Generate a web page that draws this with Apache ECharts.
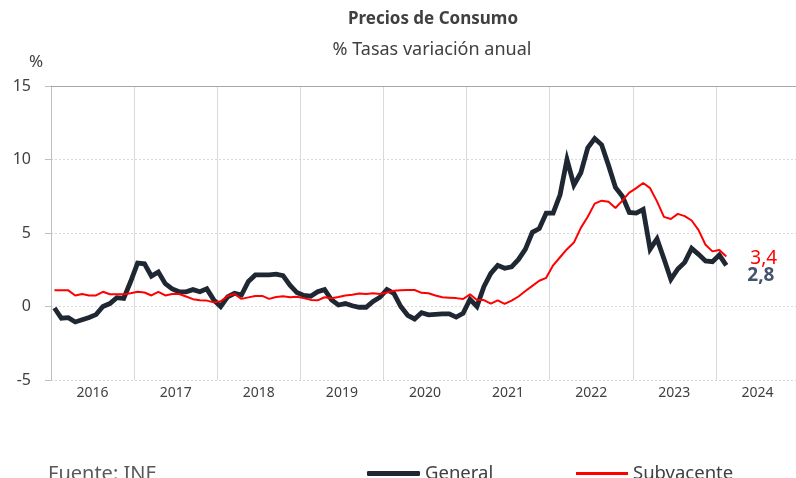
<!DOCTYPE html>
<html lang="es">
<head>
    <meta charset="UTF-8">
    <title>Precios de Consumo</title>
    <script src="https://cdn.jsdelivr.net/npm/echarts@6/dist/echarts.min.js"></script>
    <style>
        html, body { margin: 0; padding: 0; background: #fff; }
        #chart { width: 796px; height: 478px; }
    </style>
</head>
<body>
    <div id="chart"></div>

    <script>
        // años del eje X
        var years = ['2016', '2017', '2018', '2019', '2020', '2021', '2022', '2023', '2024'];

        // IPC general, tasa anual (ene 2016 - feb 2024)
        var general = [
            -0.1, -0.8, -0.76, -1.05, -0.9, -0.75, -0.55, 0.0, 0.2, 0.6, 0.55, 1.7,
            2.95, 2.9, 2.07, 2.35, 1.55, 1.2, 1.0, 1.0, 1.15, 1.0, 1.2, 0.45,
            0.0, 0.65, 0.9, 0.78, 1.7, 2.15, 2.15, 2.15, 2.2, 2.1, 1.45, 0.95,
            0.75, 0.7, 1.0, 1.15, 0.45, 0.1, 0.2, 0.05, -0.05, -0.05, 0.35, 0.63,
            1.15, 0.9, 0.0, -0.6, -0.85, -0.42, -0.57, -0.53, -0.5, -0.5, -0.72, -0.46,
            0.49, 0.0, 1.35, 2.25, 2.8, 2.6, 2.7, 3.2, 3.9, 5.05, 5.3, 6.35,
            6.35, 7.6, 10.0, 8.27, 9.1, 10.8, 11.43, 11.0, 9.6, 8.1, 7.5, 6.4,
            6.35, 6.6, 3.9, 4.6, 3.25, 1.85, 2.55, 3.0, 3.95, 3.55, 3.1, 3.05,
            3.5, 2.8
        ];

        // IPC subyacente, tasa anual
        var subyacente = [
            1.1, 1.1, 1.1, 0.75, 0.85, 0.75, 0.75, 1.0, 0.83, 0.83, 0.83, 0.9,
            1.0, 0.95, 0.75, 1.0, 0.75, 0.85, 0.85, 0.68, 0.5, 0.43, 0.4, 0.28,
            0.35, 0.72, 0.85, 0.52, 0.62, 0.72, 0.72, 0.52, 0.65, 0.7, 0.63, 0.67,
            0.57, 0.45, 0.42, 0.63, 0.56, 0.65, 0.75, 0.8, 0.88, 0.85, 0.9, 0.85,
            0.95, 1.07, 1.1, 1.12, 1.12, 0.93, 0.9, 0.75, 0.63, 0.6, 0.57, 0.51,
            0.83, 0.44, 0.44, 0.2, 0.42, 0.18, 0.4, 0.68, 1.05, 1.4, 1.75, 1.95,
            2.8, 3.35, 3.9, 4.35, 5.35, 6.1, 7.0, 7.2, 7.12, 6.7, 7.2, 7.75,
            8.05, 8.4, 8.05, 7.15, 6.1, 5.95, 6.3, 6.15, 5.85, 5.2, 4.2, 3.75,
            3.85, 3.4
        ];

        var yTicks = { min: -5, max: 15, interval: 5 };

        // meses (categorías del eje mensual)
        var months = [];
        years.forEach(function (y) {
            for (var m = 1; m <= 12; m++) months.push(y + '-' + (m < 10 ? '0' + m : m));
        });

        var font = 'Noto Sans';
        var txt = '#404040';

        var mChart = echarts.init(document.getElementById('chart'), null, { renderer: 'canvas' });
        var option = {
            animation: false,
            textStyle: { fontFamily: font },
            title: [
                { text: 'Precios de Consumo', left: 433, top: 11, textAlign: 'center', padding: 0,
                  textStyle: { fontFamily: font, fontSize: 17, fontWeight: 'bold', color: txt } },
                { text: '% Tasas variación anual', left: 432, top: 41, textAlign: 'center', padding: 0,
                  textStyle: { fontFamily: font, fontSize: 18, fontWeight: 'normal', color: txt } },
                { text: '%', left: 29, top: 54, padding: 0,
                  textStyle: { fontFamily: font, fontSize: 17, fontWeight: 'normal', color: txt } },
                { text: 'Fuente: INE', left: 48, top: 464, padding: 0,
                  textStyle: { fontFamily: font, fontSize: 20, fontWeight: 'normal', color: '#595959' } }
            ],
            legend: [
                { data: ['General'], left: 367, top: 464, padding: 0, icon: 'roundRect', itemWidth: 53, itemHeight: 5,
                  textStyle: { fontFamily: font, fontSize: 18.5, color: txt } },
                { data: ['Subvacente'], left: 576, top: 464, padding: 0, icon: 'rect', itemWidth: 52, itemHeight: 3,
                  textStyle: { fontFamily: font, fontSize: 18.5, color: txt } }
            ],
            grid: { left: 51, right: -3, top: 86, bottom: 98, outerBoundsMode: 'none', containLabel: false },
            xAxis: [
                {
                    type: 'category',
                    data: years,
                    boundaryGap: true,
                    axisLine: { show: false },
                    axisTick: { show: false },
                    axisLabel: { color: txt, fontSize: 14, margin: 6 },
                    splitLine: { show: true, lineStyle: { color: '#d9d9d9', width: 1 } }
                },
                {
                    type: 'category',
                    data: months,
                    boundaryGap: true,
                    axisLine: { show: true, onZero: true, lineStyle: { color: '#a6a6a6', width: 1 } },
                    axisTick: { show: false },
                    axisLabel: { show: false },
                    splitLine: { show: false }
                }
            ],
            yAxis: {
                type: 'value',
                min: yTicks.min,
                max: yTicks.max,
                interval: yTicks.interval,
                axisLine: { show: true, lineStyle: { color: '#bfbfbf' } },
                axisTick: { show: true, length: 6, lineStyle: { color: '#bfbfbf' } },
                axisLabel: { color: txt, fontSize: 16, margin: 20 },
                splitLine: { show: true, lineStyle: { color: '#d9d9d9', type: [2, 2], width: 1 } }
            },
            series: [
                {
                    name: 'Subvacente',
                    type: 'line',
                    xAxisIndex: 1,
                    data: subyacente,
                    symbol: 'none',
                    z: 3,
                    lineStyle: { color: '#ff0000', width: 2 },
                    itemStyle: { color: '#ff0000' },
                    endLabel: {
                        show: true,
                        formatter: '3,4',
                        color: '#ff0000',
                        fontSize: 19,
                        fontFamily: font,
                        offset: [16, 2]
                    }
                },
                {
                    name: 'General',
                    type: 'line',
                    xAxisIndex: 1,
                    data: general,
                    symbol: 'none',
                    z: 2,
                    lineStyle: { color: '#1f2733', width: 4.8, join: 'miter' },
                    itemStyle: { color: '#1f2733' },
                    endLabel: {
                        show: true,
                        formatter: '2,8',
                        color: '#44546a',
                        fontSize: 19,
                        fontWeight: 'bold',
                        fontFamily: font,
                        offset: [13, 10]
                    }
                }
            ]
        };
        mChart.setOption(option);
    </script>
</body>
</html>
